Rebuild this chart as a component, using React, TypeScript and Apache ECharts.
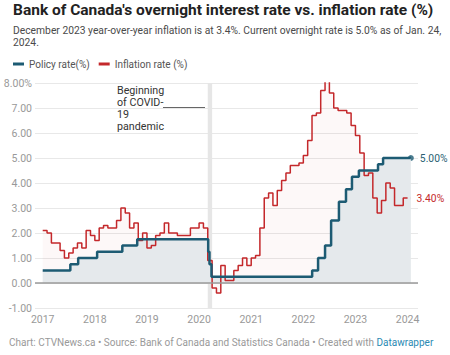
import React, { useEffect, useRef } from 'react';
import * as echarts from 'echarts';

// ---- Data ----
const yearTicks = [2017, 2018, 2019, 2020, 2021, 2022, 2023, 2024];

// Canada CPI year-over-year inflation, monthly Jan 2017 .. Dec 2023
const cpiStartYear = 2017;
const cpiValues = [
  2.1, 2.0, 1.6, 1.6, 1.3, 1.0, 1.2, 1.4, 1.6, 1.4, 2.1, 1.9,
  1.7, 2.2, 2.3, 2.2, 2.2, 2.5, 3.0, 2.8, 2.2, 2.4, 1.7, 2.0,
  1.4, 1.5, 1.9, 2.0, 2.4, 2.0, 2.0, 1.9, 1.9, 1.9, 2.2, 2.2,
  2.4, 2.2, 0.9, -0.2, -0.4, 0.7, 0.1, 0.1, 0.5, 0.7, 1.0, 0.7,
  1.0, 1.1, 2.2, 3.4, 3.6, 3.1, 3.7, 4.1, 4.4, 4.7, 4.7, 4.8,
  5.1, 5.7, 6.7, 6.8, 7.7, 8.1, 7.6, 7.0, 6.9, 6.9, 6.8, 6.3,
  5.9, 5.2, 4.3, 4.4, 3.4, 2.8, 3.3, 4.0, 3.8, 3.1, 3.1, 3.4,
];
const cpiEndDate = '2024-01-01';

// Bank of Canada overnight rate target changes
const policyDates = [
  '2017-01-01', '2017-07-12', '2017-09-06', '2018-01-17', '2018-07-11', '2018-10-24',
  '2020-03-04', '2020-03-13', '2020-03-27', '2022-03-02', '2022-04-13', '2022-06-01',
  '2022-07-13', '2022-09-07', '2022-10-26', '2022-12-07', '2023-01-25', '2023-06-07',
  '2023-07-12', '2024-01-24',
];
const policyValues = [
  0.5, 0.75, 1.0, 1.25, 1.5, 1.75,
  1.25, 0.75, 0.25, 0.5, 1.0, 1.5,
  2.5, 3.25, 3.75, 4.25, 4.5, 4.75,
  5.0, 5.0,
];

const covidStart = '2020-03-01';
const covidEnd = '2020-04-01';

const policyLabel = 'Policy rate(%)';
const inflationLabel = 'Inflation rate (%)';

const titleText = "Bank of Canada's overnight interest rate vs. inflation rate (%)";
const subtitleText =
  'December 2023 year-over-year inflation is at 3.4%. Current overnight rate is 5.0% as of Jan. 24, 2024.';
const annotationText = 'Beginning\nof COVID-\n19\npandemic';

// ---- Helpers ----
function toYear(date: string): number {
  const [y, m, d] = date.split('-').map(Number);
  return y + (m - 1) / 12 + ((d || 1) - 1) / 365;
}

const FONT = 'Roboto';
const BLUE = '#1d5b73';
const RED = '#c4282b';

export default function App() {
  const ref = useRef<HTMLDivElement>(null);

  useEffect(() => {
    if (!ref.current) return;
    const chart = echarts.init(ref.current, undefined, { renderer: 'svg' });

    const cpiPts: number[][] = cpiValues.map((v, i) => [cpiStartYear + i / 12, v]);
    cpiPts.push([toYear(cpiEndDate), cpiValues[cpiValues.length - 1]]);
    const policyPts: number[][] = policyDates.map((d, i) => [toYear(d), policyValues[i]]);

    const cpiLast = cpiPts[cpiPts.length - 1];
    const policyLast = policyPts[policyPts.length - 1];

    chart.setOption({
      animation: false,
      textStyle: { fontFamily: FONT },
      title: {
        text: titleText,
        left: 8,
        top: -3,
        textStyle: { fontSize: 15.5, fontWeight: 'bold', color: '#222', fontFamily: FONT },
        subtext: subtitleText,
        subtextStyle: {
          fontSize: 10.3,
          color: '#4a4a4a',
          width: 440,
          overflow: 'break',
          lineHeight: 12,
          fontFamily: FONT,
        },
        itemGap: 6,
      },
      legend: {
        data: [policyLabel, inflationLabel],
        left: 8,
        top: 54,
        icon: 'rect',
        itemWidth: 11,
        itemHeight: 3,
        itemGap: 9,
        textStyle: { fontSize: 10, color: '#555', fontFamily: FONT },
      },
      grid: { left: 35, right: 32, top: 83, bottom: 47 },
      xAxis: {
        type: 'value',
        min: 2016.852,
        max: 2024.2,
        splitLine: { show: false },
        axisLine: { show: false },
        axisTick: { show: false },
        axisLabel: {
          customValues: yearTicks,
          formatter: (v: number) => String(Math.round(v)),
          color: '#999',
          fontSize: 10.5,
          margin: 6,
        },
      },
      yAxis: {
        type: 'value',
        min: -1,
        max: 8,
        interval: 1,
        axisLine: { show: false },
        axisTick: { show: false },
        axisLabel: {
          formatter: (v: number) => (v === 8 ? '8.00%' : v.toFixed(2)),
          color: '#999',
          fontSize: 10.5,
          margin: 3,
        },
        splitLine: { lineStyle: { color: '#e8e8e8', width: 1 } },
      },
      series: [
        {
          name: 'cpiArea',
          type: 'line',
          data: cpiPts,
          step: 'end',
          symbol: 'none',
          silent: true,
          lineStyle: { width: 0 },
          areaStyle: { color: 'rgba(199,30,29,0.045)' },
          markArea: {
            silent: true,
            itemStyle: { color: '#e6e6e6' },
            data: [[{ xAxis: toYear(covidStart) }, { xAxis: toYear(covidEnd) }]],
          },
        },
        {
          name: 'policyArea',
          type: 'line',
          data: policyPts,
          step: 'end',
          symbol: 'none',
          silent: true,
          lineStyle: { width: 0 },
          areaStyle: { color: '#e5e9ec', opacity: 1 },
          markLine: {
            silent: true,
            symbol: 'none',
            label: { show: false },
            lineStyle: { color: '#9a9a9a', width: 1.5, type: 'solid' },
            data: [{ yAxis: 0 }],
          },
        },
        {
          name: inflationLabel,
          type: 'line',
          data: cpiPts,
          step: 'end',
          symbol: 'none',
          itemStyle: { color: RED },
          lineStyle: { color: RED, width: 1.5 },
          endLabel: {
            show: true,
            formatter: () => cpiLast[1].toFixed(2) + '%',
            color: RED,
            fontSize: 10.3,
            distance: 9,
          },
        },
        {
          name: policyLabel,
          type: 'line',
          data: policyPts,
          step: 'end',
          symbol: 'none',
          itemStyle: { color: BLUE },
          lineStyle: { color: BLUE, width: 2.5 },
          endLabel: {
            show: true,
            formatter: () => policyLast[1].toFixed(2) + '%',
            color: '#2a5f73',
            fontSize: 10.3,
            distance: 9,
          },
        },
        {
          name: 'ends',
          type: 'scatter',
          symbolSize: 6,
          silent: true,
          data: [
            { value: cpiLast, itemStyle: { color: RED } },
            { value: policyLast, itemStyle: { color: BLUE } },
          ],
        },
      ],
      graphic: [
        {
          type: 'text',
          left: 117,
          top: 84,
          style: {
            text: annotationText,
            fill: '#333',
            fontSize: 10.7,
            lineHeight: 12.2,
            fontFamily: FONT,
          },
        },
        {
          type: 'line',
          shape: { x1: 163, y1: 107.5, x2: 205, y2: 107.5 },
          style: { stroke: '#666', lineWidth: 1 },
        },
        {
          type: 'text',
          left: 9,
          top: 337,
          style: {
            text: '{a|Chart: CTVNews.ca • Source: Bank of Canada and Statistics Canada • Created with }{b|Datawrapper}',
            rich: {
              a: { fill: '#999', fontSize: 10, fontFamily: FONT },
              b: { fill: '#2a8ab3', fontSize: 10, fontFamily: FONT },
            },
          },
        },
      ],
    });

    return () => chart.dispose();
  }, []);

  return (
    <div
      ref={ref}
      style={{ position: 'fixed', left: 0, top: 0, width: 450, height: 355, background: '#fff' }}
    />
  );
}
